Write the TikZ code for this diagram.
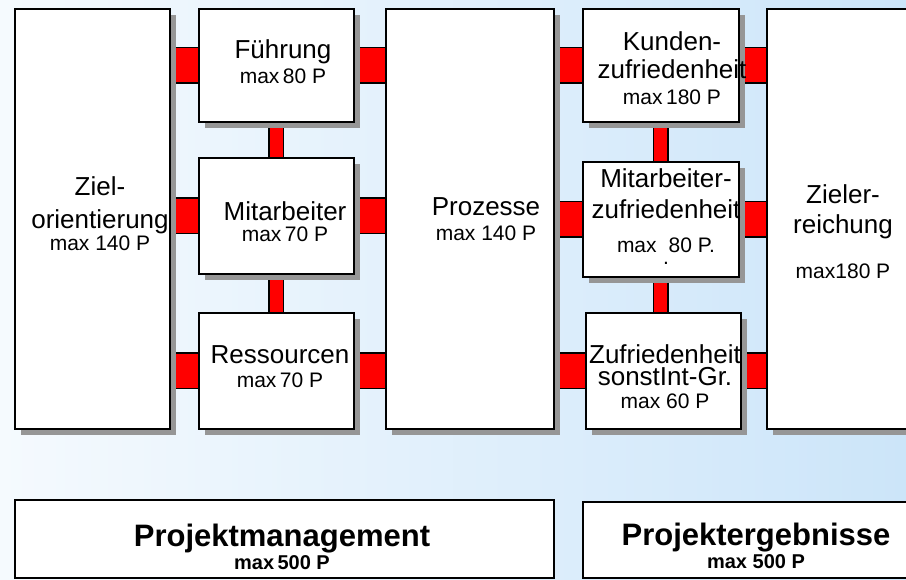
\documentclass[tikz,border=0pt]{standalone}
\usepackage{fontspec}
\setmainfont{Liberation Sans}
\usetikzlibrary{shadows}
\definecolor{bgleft}{RGB}{245,250,254}
\definecolor{bgright}{RGB}{204,229,249}
\definecolor{shadowgray}{RGB}{150,150,150}
\newcommand{\maxfont}{\fontsize{21}{26}\selectfont}
\newcommand{\subfont}{\fontsize{20}{23}\selectfont}
\pgfdeclarelayer{bg}
\pgfdeclarelayer{links}
\pgfsetlayers{bg,links,main}

\begin{document}
\begin{tikzpicture}[x=1pt,y=-1pt,
		box/.style={draw, line width=1.5pt, fill=white, inner sep=0pt, anchor=north west},
		shadowed/.style={drop shadow={shadow xshift=6pt, shadow yshift=-6pt, fill=shadowgray, opacity=1}},
		hbar/.style={draw=black, line width=1.5pt, double=red, double distance=34pt},
		vbar/.style={draw=black, line width=1.5pt, double=red, double distance=13pt},
		txt/.style={font=\fontsize{26}{26}\selectfont, align=center, inner sep=0pt, anchor=base},
		titletxt/.style={font=\bfseries\fontsize{31}{23}\selectfont, align=center, inner sep=0pt, anchor=base}]
	\useasboundingbox (0,0) rectangle (906,579);
	
	% background
	\begin{pgfonlayer}{bg}
		\shade[left color=bgleft, right color=bgright] (0,0) rectangle (906,579);
	\end{pgfonlayer}
	
	% Befaehiger
	\node[box, shadowed, minimum width=155pt, minimum height=420pt] (ziel) at (14,8) {};
	\node[box, shadowed, minimum width=155pt, minimum height=113pt] (fuehr) at (198,8) {};
	\node[box, shadowed, minimum width=155pt, minimum height=116pt] (mitarb) at (198,157) {};
	\node[box, shadowed, minimum width=155pt, minimum height=116pt] (ressourcen) at (198,312) {};
	\node[box, shadowed, minimum width=168pt, minimum height=420pt] (prozesse) at (385,8) {};
	
	% Ergebnisse
	\node[box, shadowed, minimum width=156pt, minimum height=113pt] (kunden) at (582,8) {};
	\node[box, shadowed, minimum width=156pt, minimum height=115pt] (mazuf) at (582,161) {};
	\node[box, shadowed, minimum width=155pt, minimum height=116pt] (sonst) at (585,312) {};
	\node[box, shadowed, minimum width=160pt, minimum height=420pt] (zielerr) at (766,8) {};
	
	% Projekt
	\node[box, minimum width=539pt, minimum height=78pt] (projman) at (14,499) {};
	\node[box, minimum width=340pt, minimum height=76pt] (projerg) at (582,501) {};
	
	% red links
	\begin{pgfonlayer}{links}
		\foreach \b in {fuehr,mitarb,ressourcen}{
			\draw[hbar] (ziel.east |- \b.west) -- (\b.west);
			\draw[hbar] (\b.east) -- (prozesse.west |- \b.east);
		}
		\foreach \b in {kunden,mazuf,sonst}{
			\draw[hbar] (prozesse.east |- \b.west) -- (\b.west);
			\draw[hbar] (\b.east) -- (zielerr.west |- \b.east);
		}
		\draw[vbar] (fuehr.south) -- (mitarb.north);
		\draw[vbar] (mitarb.south) -- (ressourcen.north);
		\draw[vbar] (kunden.south) -- (mazuf.north);
		\draw[vbar] (mazuf.south) -- (mazuf.south |- sonst.north);
	\end{pgfonlayer}
	
	% texts (placed at the baseline of the last line)
	\node[txt] (ziel-t) at (100,250) {Ziel-\\[7pt]orientierung\\[-4pt]{\maxfont max 140 P}};
	\node[txt] (fuehr-t) at (283,83) {Führung\\[-1pt]{\maxfont max\,80 P}};
	\node[txt] (mitarb-t) at (285,241) {Mitarbeiter\\[-5pt]{\maxfont max\,70 P}};
	\node[txt] (ressourcen-t) at (280,387) {Ressourcen\\[-2pt]{\maxfont max\,70 P}};
	\node[txt] (prozesse-t) at (486,240) {Prozesse\\[-1pt]{\maxfont max 140 P}};
	\node[txt] (kunden-t) at (672,104) {Kunden-\\[2pt]zufriedenheit\\{\maxfont max\,180 P}};
	\node[txt] (mazuf-t) at (666,264) {Mitarbeiter-\\[5pt]zufriedenheit\\[8pt]{\maxfont max\hspace{12pt}80 P.}\\[-14pt]{\maxfont .}};
	\node[txt] (sonst-t) at (665,408) {Zufriedenheit\\[-4pt]sonstInt-Gr.\\[-3pt]{\maxfont max 60 P}};
	\node[txt] (zielerr-t) at (843,278) {Zieler-\\[4pt]reichung\\[19pt]{\maxfont max180 P}};
	\node[titletxt] (projman-t) at (282,569) {Projektmanagement\\{\subfont max\,500 P}};
	\node[titletxt] (projerg-t) at (756,568) {Projektergebnisse\\{\subfont max 500 P}};
\end{tikzpicture}
\end{document}
